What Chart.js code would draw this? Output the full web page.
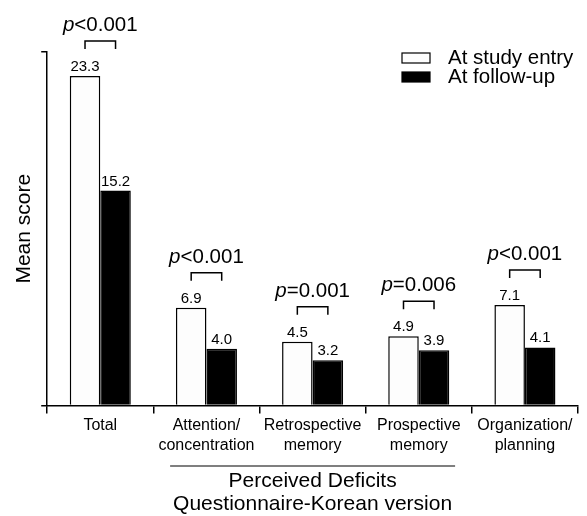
<!DOCTYPE html>
<html>
<head>
<meta charset="utf-8">
<script src="https://cdn.jsdelivr.net/npm/chart.js@4"></script>
<style>
  body { margin: 0; background: #fff; }
</style>
</head>
<body>
<canvas id="grafico" width="587" height="516"></canvas>
<script>
// Datos del gráfico
const categorias = ['Total', ['Attention/', 'concentration'], ['Retrospective', 'memory'], ['Prospective', 'memory'], ['Organization/', 'planning']];
const series = ['At study entry', 'At follow-up'];
const entrada = [23.3, 6.9, 4.5, 4.9, 7.1];
const seguimiento = [15.2, 4.0, 3.2, 3.9, 4.1];
const valoresP = ['<0.001', '<0.001', '=0.001', '=0.006', '<0.001'];
const tituloX = ['Perceived Deficits', 'Questionnaire-Korean version'];

const FUENTE = '"Liberation Sans", Arial, sans-serif';

// Etiquetas de valor encima de cada barra, corchetes y valores p
const anotaciones = {
    id: 'anotaciones',
    afterDatasetsDraw(chart) {
        const ctx = chart.ctx;
        const m0 = chart.getDatasetMeta(0);
        const m1 = chart.getDatasetMeta(1);
        ctx.save();
        ctx.fillStyle = '#000';
        ctx.strokeStyle = '#000';
        ctx.font = '15px ' + FUENTE;
        ctx.textAlign = 'center';
        ctx.textBaseline = 'alphabetic';
        [m0, m1].forEach((meta, d) => {
            meta.data.forEach((bar, i) => {
                const v = chart.data.datasets[d].data[i];
                ctx.fillText(v.toFixed(1), bar.x, bar.y - 5);
            });
        });

        ctx.lineWidth = 1.5;
        valoresP.forEach((p, i) => {
            const a = m0.data[i], b = m1.data[i];
            const top = Math.min(a.y, b.y) - 35;
            ctx.beginPath();
            ctx.moveTo(a.x, top + 8);
            ctx.lineTo(a.x, top);
            ctx.lineTo(b.x, top);
            ctx.lineTo(b.x, top + 8);
            ctx.stroke();

            // "p" en cursiva y el resto normal
            ctx.font = 'italic 20.5px ' + FUENTE;
            const wp = ctx.measureText('p').width;
            ctx.font = '20.5px ' + FUENTE;
            const wr = ctx.measureText(p).width;
            const cx = (a.x + b.x) / 2;
            const x0 = cx - (wp + wr) / 2;
            ctx.textAlign = 'left';
            ctx.font = 'italic 20.5px ' + FUENTE;
            ctx.fillText('p', x0, top - 10);
            ctx.font = '20.5px ' + FUENTE;
            ctx.fillText(p, x0 + wp, top - 10);
            ctx.textAlign = 'center';
        });
        ctx.restore();
    },
    afterDraw(chart) {
        const ctx = chart.ctx;
        const area = chart.chartArea;
        const xs = chart.scales.x;
        ctx.save();
        // Línea sobre el título del eje x
        ctx.font = '21px ' + FUENTE;
        const w = ctx.measureText(tituloX[1]).width + 6;
        const cx = (area.left + area.right) / 2;
        const y = xs.bottom - 50;
        ctx.strokeStyle = '#000';
        ctx.lineWidth = 1.2;
        ctx.beginPath();
        ctx.moveTo(cx - w / 2, y);
        ctx.lineTo(cx + w / 2, y);
        ctx.stroke();

        // Leyenda
        ctx.font = '20.5px ' + FUENTE;
        const colores = ['#fdfdfd', '#000'];
        series.forEach((s, i) => {
            const by = 53 + i * 19;
            ctx.fillStyle = colores[i];
            ctx.fillRect(402, by, 28, 10);
            ctx.lineWidth = 1.2;
            ctx.strokeStyle = '#000';
            ctx.strokeRect(402, by, 28, 10);
            ctx.fillStyle = '#000';
            ctx.textAlign = 'left';
            ctx.textBaseline = 'middle';
            ctx.fillText(s, 448, by + 5);
        });
        ctx.restore();
    }
};

new Chart(document.getElementById('grafico').getContext('2d'), {
    type: 'bar',
    data: {
        labels: categorias,
        datasets: [{
            label: series[0],
            data: entrada,
            backgroundColor: '#fdfdfd',
            borderColor: '#000',
            borderWidth: 1.5,
            categoryPercentage: 0.575,
            barPercentage: 1
        }, {
            label: series[1],
            data: seguimiento,
            backgroundColor: '#000',
            borderColor: '#000',
            borderWidth: 1.5,
            categoryPercentage: 0.575,
            barPercentage: 1
        }]
    },
    options: {
        responsive: false,
        animation: false,
        layout: { padding: { top: 52, right: 9, bottom: 0, left: 8 } },
        plugins: {
            legend: { display: false },
            tooltip: { enabled: false }
        },
        scales: {
            x: {
                grid: { drawOnChartArea: false, color: '#000', lineWidth: 1.5, tickLength: 8 },
                border: { color: '#000', width: 1.5 },
                ticks: { color: '#000', font: { family: FUENTE, size: 16 }, padding: 3, maxRotation: 0 },
                title: {
                    display: true,
                    text: tituloX,
                    color: '#000',
                    font: { family: FUENTE, size: 21, lineHeight: 1.1 },
                    padding: { top: 12, bottom: 0 }
                }
            },
            y: {
                min: 0,
                max: 25,
                ticks: { display: false, stepSize: 25 },
                grid: { drawOnChartArea: false, color: '#000', lineWidth: 1.5, tickLength: 6 },
                border: { color: '#000', width: 1.5 },
                title: {
                    display: true,
                    text: 'Mean score',
                    color: '#000',
                    font: { family: FUENTE, size: 21, lineHeight: 1.2 },
                    padding: { top: 4, bottom: 4 }
                }
            }
        }
    },
    plugins: [anotaciones]
});
</script>
</body>
</html>
